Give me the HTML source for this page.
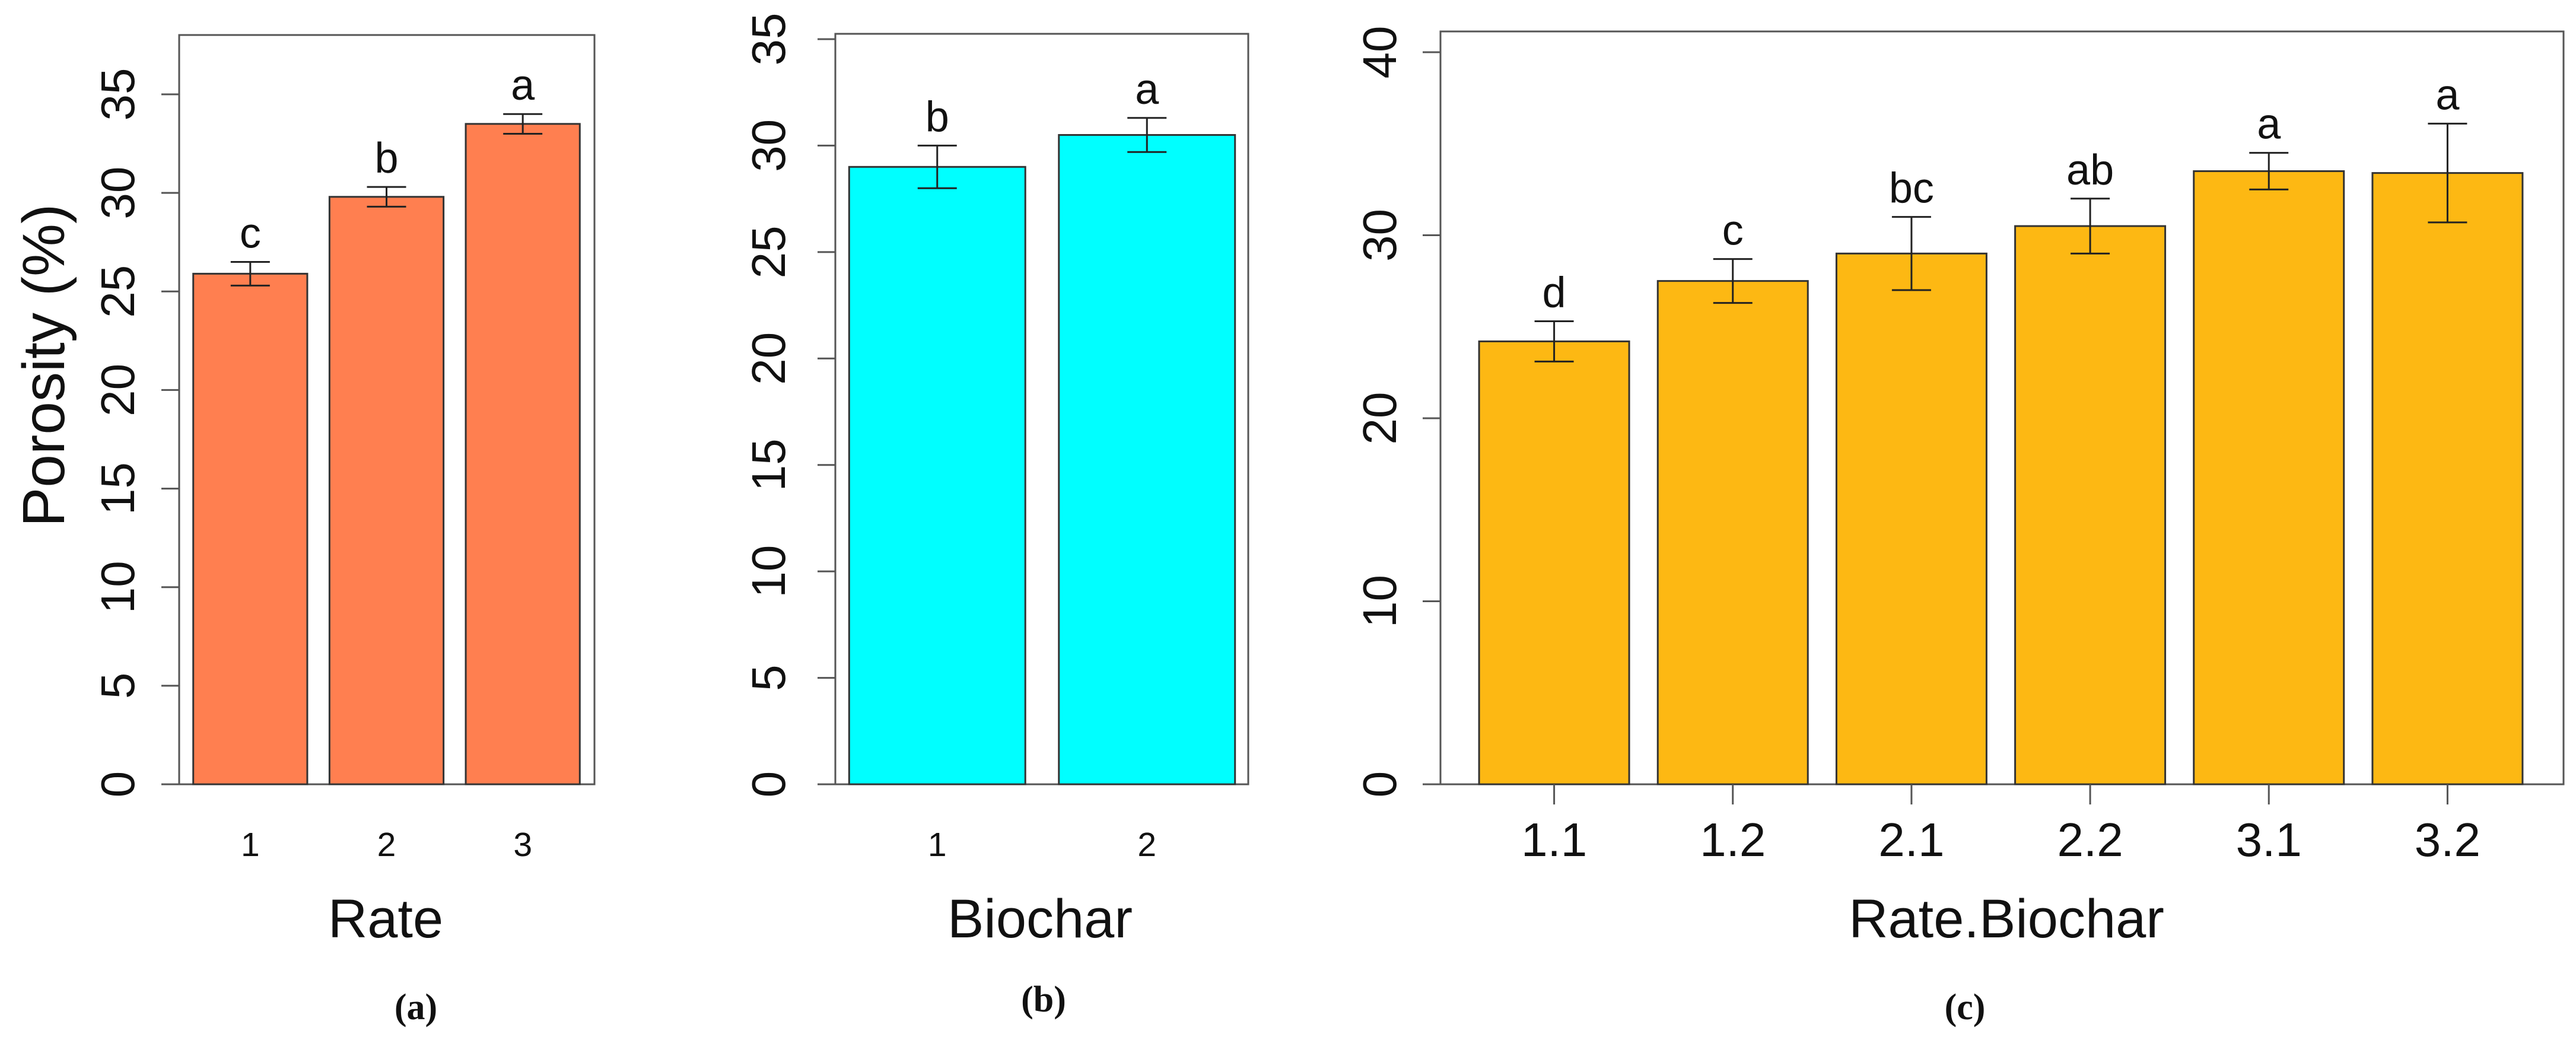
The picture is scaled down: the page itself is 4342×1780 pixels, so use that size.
<!DOCTYPE html>
<html><head><meta charset="utf-8"><style>
html,body{margin:0;padding:0;background:#fff;}
svg{display:block;}
text{font-family:"Liberation Sans",Arial,sans-serif;fill:#111;}
</style></head><body>
<svg id="chart" width="4342" height="1780" viewBox="0 0 4342 1780" xmlns="http://www.w3.org/2000/svg"></svg>
<script>
// Panel a
const catsA = ["1","2","3"];
const valsA = [25.9, 29.8, 33.5];
const errA = [0.6, 0.5, 0.5];
const lettersA = ["c","b","a"];
const ticksA = [0,5,10,15,20,25,30,35];
// Panel b
const catsB = ["1","2"];
const valsB = [29.0, 30.5];
const errB = [1.0, 0.8];
const lettersB = ["b","a"];
const ticksB = [0,5,10,15,20,25,30,35];
// Panel c
const catsC = ["1.1","1.2","2.1","2.2","3.1","3.2"];
const valsC = [24.2, 27.5, 29.0, 30.5, 33.5, 33.4];
const errC = [1.1, 1.2, 2.0, 1.5, 1.0, 2.7];
const lettersC = ["d","c","bc","ab","a","a"];
const ticksC = [0,10,20,30,40];

const NS = "http://www.w3.org/2000/svg";
const svg = document.getElementById('chart');
function mk(tag, attrs, parent){
  const e = document.createElementNS(NS, tag);
  for (const k in attrs) e.setAttribute(k, attrs[k]);
  (parent||svg).appendChild(e);
  return e;
}

function panel(cfg){
  const g = mk('g', {});
  
  
  const y = v => cfg.y0 - (v / cfg.ymaxTick) * (cfg.y0 - cfg.yTop);
  const box = mk('rect', {x:cfg.bx0, y:cfg.by0, width:cfg.bx1-cfg.bx0, height:cfg.y0-cfg.by0, fill:'none', stroke:'#555', 'stroke-width':3}, g);
  
  
  cfg.ticks.forEach(t => {
    const ln = mk('line', {x1:cfg.bx0-30, x2:cfg.bx0, y1:y(t), y2:y(t), stroke:'#555', 'stroke-width':3}, g);
    
    
    const lx = cfg.tlx + 29;
    const tx = mk('text', {x:lx, y:y(t), 'font-size':80, 'text-anchor':'middle', transform:`rotate(-90 ${lx} ${y(t)})`}, g);
    tx.textContent = t;
    
    
  });
  const n = cfg.cats.length;
  const slot = (cfg.barR - cfg.barL) / n;
  const bw = slot * cfg.frac;
  cfg.cats.forEach((c, i) => {
    const cx = cfg.barL + slot*(i+0.5);
    const v = cfg.vals[i], e = cfg.err[i];
    const r = mk('rect', {x:cx-bw/2, y:y(v), width:bw, height:cfg.y0-y(v), fill:cfg.color, stroke:'#333', 'stroke-width':3}, g);
    
    
    const eg = mk('g', {stroke:'#222', 'stroke-width':3}, g);
    
    
    mk('line', {x1:cx, x2:cx, y1:y(v+e), y2:y(v-e)}, eg);
    mk('line', {x1:cx-33, x2:cx+33, y1:y(v+e), y2:y(v+e)}, eg);
    mk('line', {x1:cx-33, x2:cx+33, y1:y(v-e), y2:y(v-e)}, eg);
    const lt = mk('text', {x:cx, y:y(v+e)-24, 'font-size':72, 'text-anchor':'middle'}, g);
    lt.textContent = cfg.letters[i];
    
    
    if (cfg.xticks){
      const tl = mk('line', {x1:cx, x2:cx, y1:cfg.y0, y2:cfg.y0+34, stroke:'#555', 'stroke-width':3}, g);
      
      
    }
    const xl = mk('text', {x:cx, y:1443, 'font-size':cfg.xfs, 'text-anchor':'middle'}, g);
    xl.textContent = c;
    
    
  });
  const xt = mk('text', {x:cfg.titleX, y:1580, 'font-size':92, 'text-anchor':'middle'}, g);
  xt.textContent = cfg.title;
  
  
  const pl = mk('text', {x:cfg.tagX, y:cfg.tagY, 'font-size':62, 'font-weight':'bold', 'text-anchor':'middle', style:'font-family:"Liberation Serif",serif'}, g);
  pl.textContent = cfg.tag;
  
  
}

panel({name:'panel-a', cats:catsA, vals:valsA, err:errA, letters:lettersA, ticks:ticksA, ymaxTick:35,
  bx0:302, bx1:1002, by0:59, y0:1322, yTop:159, barL:307, barR:996, frac:0.837, color:'#FF7F50',
  xticks:false, xfs:57, tlx:197, title:'Rate', titleX:650, tag:'(a)', tagX:701, tagY:1718});
panel({name:'panel-b', cats:catsB, vals:valsB, err:errB, letters:lettersB, ticks:ticksB, ymaxTick:35,
  bx0:1408, bx1:2104, by0:57, y0:1322, yTop:66, barL:1403, barR:2110, frac:0.84, color:'#00FFFF',
  xticks:false, xfs:57, tlx:1294, title:'Biochar', titleX:1753, tag:'(b)', tagX:1759, tagY:1705});
panel({name:'panel-c', cats:catsC, vals:valsC, err:errC, letters:lettersC, ticks:ticksC, ymaxTick:40,
  bx0:2428, bx1:4321, by0:53, y0:1322, yTop:88, barL:2469, barR:4276, frac:0.84, color:'#FDB813',
  xticks:true, xfs:80, tlx:2324, title:'Rate.Biochar', titleX:3382, tag:'(c)', tagX:3312, tagY:1718});

const yt = mk('text', {x:108, y:616, 'font-size':100, 'text-anchor':'middle', transform:'rotate(-90 108 616)'});
yt.textContent = 'Porosity (%)';


</script>
</body></html>
